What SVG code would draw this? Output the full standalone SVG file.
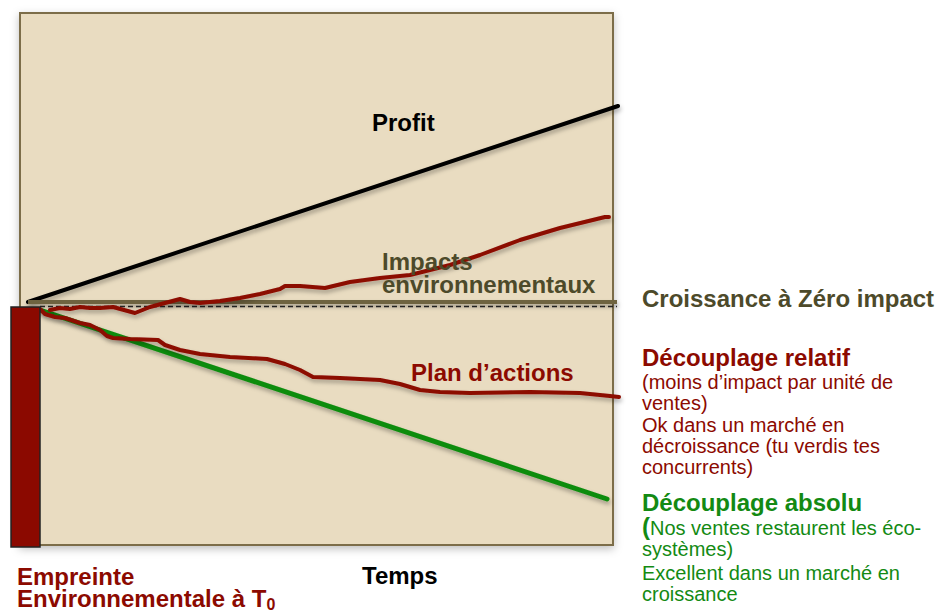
<svg xmlns="http://www.w3.org/2000/svg" width="942" height="613" viewBox="0 0 942 613">
<defs>
<filter id="sh" filterUnits="userSpaceOnUse" x="0" y="0" width="942" height="613">
<feDropShadow dx="1" dy="3" stdDeviation="2" flood-color="#000" flood-opacity="0.3"/>
</filter>
<filter id="shb" filterUnits="userSpaceOnUse" x="0" y="0" width="942" height="613">
<feDropShadow dx="0" dy="3" stdDeviation="4" flood-color="#000" flood-opacity="0.25"/>
</filter>
</defs>
<style>
text{font-family:"Liberation Sans",Arial,sans-serif}
.b{font-weight:bold}
.line{fill:none;stroke-linecap:round;stroke-linejoin:round}
.red{stroke:#8c0a00;stroke-width:4}
.big{font-size:24px;font-weight:bold}
.small{font-size:20px}
.rd{fill:#8c0a00}
.gr{fill:#138a13}
.ol{fill:#4d4a2a}
</style>
<rect width="942" height="613" fill="#ffffff"/>
<g id="frame">
<rect x="20" y="13" width="593" height="532" fill="#e9dcc1" stroke="#7b6d49" stroke-width="2" filter="url(#shb)"/>
</g>
<g id="connectors">
<line x1="28" y1="302" x2="618" y2="106" class="line" stroke="#000" stroke-width="4" filter="url(#sh)"/>
<line x1="28" y1="302" x2="617" y2="302" stroke="#6e6340" stroke-width="4" filter="url(#sh)"/>
<line x1="40" y1="306.5" x2="617" y2="306.5" stroke="#222" stroke-width="1.3" stroke-dasharray="5,3"/>
<line x1="40" y1="310" x2="607" y2="499" class="line" stroke="#0d8c0d" stroke-width="5" filter="url(#sh)"/>
<polyline class="line red" filter="url(#sh)" points="50,310 60,308 70,309 80,307 90,308 100,308 113,307 135,313 150,307 165,303 180,299 190,302 200,303 220,301 240,298 260,294 280,289 285,286 300,286 325,288 350,282 380,278 410,275 450,265 480,255 520,240 560,228 605,217 609,217"/>
<polyline class="line red" filter="url(#sh)" points="40,309 45,314 55,317 65,318 80,323 90,325 100,330 107,336 113,338 130,339 158,340 165,345 180,350 200,354 230,357 267,359 285,364 300,370 313,377 340,378 380,380 400,384 420,390 440,392 470,393 530,392 580,393 610,396 619,397"/>
</g>
<g id="bar">
<rect x="11" y="307" width="29" height="240" fill="#8b0900" stroke="#222" stroke-width="1.5"/>
</g>
<g id="profit"><text x="372" y="131" class="big" fill="#000">Profit</text></g>
<g id="impacts">
<text x="382" y="270" class="big ol">Impacts</text>
<text x="382" y="293" class="big ol">environnementaux</text>
</g>
<g id="croissance"><text x="642" y="307" class="big ol">Croissance à Zéro impact</text></g>
<g id="plan"><text x="411" y="381" class="big rd">Plan d’actions</text></g>
<g id="relatif">
<text x="642" y="366" class="big rd">Découplage relatif</text>
<text class="small rd">
<tspan x="642" y="389">(moins d’impact par unité de</tspan>
<tspan x="642" y="410">ventes)</tspan>
<tspan x="642" y="432">Ok dans un marché en</tspan>
<tspan x="642" y="453">décroissance (tu verdis tes</tspan>
<tspan x="642" y="474">concurrents)</tspan>
</text>
</g>
<g id="absolu">
<text x="642" y="511" class="big gr">Découplage absolu</text>
<text class="small gr">
<tspan x="642" y="535"><tspan font-weight="bold" font-size="24">(</tspan>Nos ventes restaurent les éco-</tspan>
<tspan x="642" y="556">systèmes)</tspan>
<tspan x="642" y="580">Excellent dans un marché en</tspan>
<tspan x="642" y="601">croissance</tspan>
</text>
</g>
<g id="empreinte">
<text x="17" y="585" class="big rd">Empreinte</text>
<text x="17" y="607" class="big rd">Environnementale à T<tspan font-size="16" dy="3">0</tspan></text>
</g>
<g id="temps"><text x="362" y="584" class="big" fill="#000">Temps</text></g>
</svg>
